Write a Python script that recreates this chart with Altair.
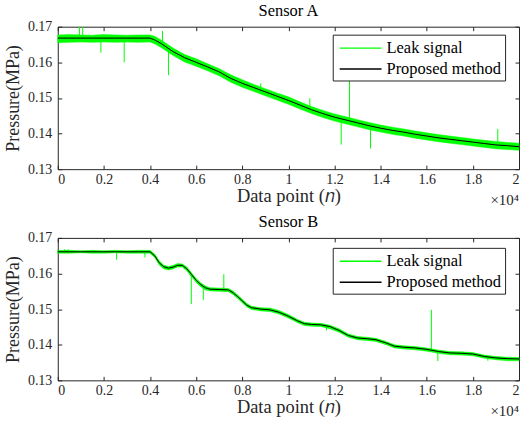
import altair as alt
import pandas as pd

FONT = "Liberation Serif, Times New Roman, Times, serif"
GREEN = "#00ff00"
AX = "#262626"

# ---------- Sensor A ----------
xa = [0, 500, 1000, 1500, 2000, 2500, 3000, 3500, 4000, 4200, 4500, 5000, 5500, 6000, 6500,
      7000, 7500, 8000, 8500, 9000, 9500, 10000, 10500, 11000, 11500, 12000, 12500, 13000,
      13500, 14000, 14500, 15000, 15500, 16000, 16500, 17000, 17500, 18000, 18500, 19000,
      19500, 20000]
line_a = [0.1668, 0.1668, 0.1668, 0.1668, 0.1668, 0.1668, 0.1668, 0.1668, 0.1668, 0.1663,
          0.1652, 0.1630, 0.1613, 0.1600, 0.1587, 0.1573, 0.1555, 0.1541, 0.1529, 0.1517,
          0.1505, 0.1493, 0.1480, 0.1467, 0.1456, 0.1446, 0.1438, 0.1430, 0.1422, 0.1415,
          0.1409, 0.1404, 0.1398, 0.1393, 0.1388, 0.1384, 0.1380, 0.1376, 0.1372, 0.1368,
          0.1366, 0.1363]
upper_a = [0.1677, 0.1678, 0.1677, 0.1676, 0.1678, 0.1677, 0.1676, 0.1677, 0.1677, 0.1673,
           0.1662, 0.1640, 0.1622, 0.1610, 0.1596, 0.1582, 0.1565, 0.1551, 0.1538, 0.1526,
           0.1514, 0.1503, 0.1489, 0.1476, 0.1465, 0.1455, 0.1447, 0.1439, 0.1431, 0.1424,
           0.1418, 0.1413, 0.1407, 0.1402, 0.1397, 0.1393, 0.1389, 0.1385, 0.1381, 0.1378,
           0.1375, 0.1373]
lower_a = [0.1655, 0.1656, 0.1657, 0.1656, 0.1657, 0.1656, 0.1657, 0.1656, 0.1657, 0.1652,
           0.1641, 0.1619, 0.1601, 0.1589, 0.1576, 0.1562, 0.1544, 0.1530, 0.1518, 0.1506,
           0.1494, 0.1482, 0.1469, 0.1456, 0.1445, 0.1435, 0.1427, 0.1419, 0.1411, 0.1404,
           0.1398, 0.1393, 0.1387, 0.1382, 0.1377, 0.1373, 0.1369, 0.1365, 0.1361, 0.1357,
           0.1355, 0.1353]
spike_a_x = [940, 1080, 1870, 2880, 4540, 4800, 8800, 10930, 12290, 12650, 13560, 19080]
spike_a_lo = [0.1668, 0.1668, 0.1627, 0.1600, 0.1652, 0.1564, 0.1522, 0.1475, 0.1369, 0.1437, 0.1358, 0.1368]
spike_a_hi = [0.1700, 0.1700, 0.1668, 0.1668, 0.1688, 0.1640, 0.1541, 0.1499, 0.1443, 0.1580, 0.1421, 0.1413]

# ---------- Sensor B ----------
xb = [0, 500, 1000, 1500, 2000, 2500, 3000, 3500, 4000, 4200, 4400, 4600, 4800, 5000, 5200,
      5400, 5600, 5800, 6000, 6200, 6400, 6600, 7000, 7400, 7600, 7800, 8000, 8200, 8400,
      8800, 9200, 9600, 10000, 10400, 10700, 11000, 11400, 11800, 12200, 12600, 13000,
      13400, 13800, 14200, 14600, 15000, 15500, 16000, 16500, 17000, 17500, 18000, 18500,
      19000, 19500, 20000]
line_b = [0.1661, 0.1661, 0.1661, 0.1661, 0.1661, 0.1661, 0.1661, 0.1661, 0.1661,
          0.1650, 0.1630, 0.1619, 0.1615, 0.1618, 0.1623, 0.1623, 0.1613, 0.1597, 0.1581,
          0.1569, 0.1560, 0.1556, 0.1555, 0.1554, 0.1546, 0.1535, 0.1523, 0.1511, 0.1504,
          0.1500, 0.1498, 0.1491, 0.1480, 0.1467, 0.1459, 0.1457, 0.1456, 0.1451, 0.1440,
          0.1426, 0.1419, 0.1417, 0.1414, 0.1406, 0.1396, 0.1393, 0.1391, 0.1387, 0.1381,
          0.1377, 0.1376, 0.1374, 0.1367, 0.1363, 0.1361, 0.1360]
upper_b = [0.1665, 0.1665, 0.1664, 0.1665, 0.1664, 0.1665, 0.1664, 0.1665, 0.1665,
           0.1655, 0.1636, 0.1623, 0.1620, 0.1623, 0.1628, 0.1627, 0.1618, 0.1602, 0.1586,
           0.1574, 0.1565, 0.1560, 0.1559, 0.1558, 0.1551, 0.1540, 0.1528, 0.1516, 0.1508,
           0.1504, 0.1503, 0.1496, 0.1485, 0.1471, 0.1463, 0.1461, 0.1460, 0.1455, 0.1445,
           0.1430, 0.1423, 0.1421, 0.1418, 0.1410, 0.1400, 0.1397, 0.1395, 0.1391, 0.1385,
           0.1381, 0.1380, 0.1378, 0.1371, 0.1367, 0.1365, 0.1364]
lower_b = [0.1657, 0.1657, 0.1658, 0.1657, 0.1657, 0.1658, 0.1657, 0.1657, 0.1657,
           0.1645, 0.1624, 0.1613, 0.1610, 0.1613, 0.1618, 0.1618, 0.1607, 0.1591, 0.1575,
           0.1563, 0.1554, 0.1551, 0.1550, 0.1549, 0.1541, 0.1530, 0.1518, 0.1506, 0.1499,
           0.1495, 0.1493, 0.1486, 0.1475, 0.1462, 0.1454, 0.1452, 0.1451, 0.1445, 0.1435,
           0.1421, 0.1414, 0.1412, 0.1409, 0.1401, 0.1391, 0.1388, 0.1386, 0.1382, 0.1376,
           0.1372, 0.1371, 0.1369, 0.1362, 0.1358, 0.1355, 0.1355]
spike_b_x = [300, 450, 2550, 3780, 5790, 6310, 7200, 11650, 16200, 16480, 18650]
spike_b_lo = [0.1661, 0.1661, 0.1639, 0.1645, 0.1514, 0.1526, 0.1555, 0.1440, 0.1388, 0.1354, 0.1355]
spike_b_hi = [0.1668, 0.1668, 0.1661, 0.1661, 0.1597, 0.1565, 0.1598, 0.1456, 0.1498, 0.1384, 0.1368]

series_names = ["Leak signal", "Proposed method"]
series_colors = [GREEN, "#000000"]
x_ticks = [0, 2000, 4000, 6000, 8000, 10000, 12000, 14000, 16000, 18000, 20000]
y_ticks = [0.13, 0.14, 0.15, 0.16, 0.17]

W, H = 463, 143


def panel(title, xs, line, up, lo, sx, slo, shi, legend_y):
    band = pd.DataFrame({"x": xs, "up": up, "lo": lo, "series": series_names[0]})
    ln = pd.DataFrame({"x": xs, "y": line, "series": series_names[1]})
    sp = pd.DataFrame({"x": sx, "lo": slo, "hi": shi, "series": series_names[0]})

    xsc = alt.Scale(domain=[0, 20000], nice=False, zero=False)
    ysc = alt.Scale(domain=[0.13, 0.17], nice=False, zero=False)
    ssc = alt.Scale(domain=series_names, range=series_colors)
    leg = alt.Legend(title=None, orient="none", legendX=276, legendY=legend_y,
                     symbolType="M-1,0H3.42", symbolSize=361, symbolStrokeWidth=1.5,
                     symbolOffset=3, labelOffset=27,
                     labelFont=FONT, labelFontSize=16.5, labelColor="#000000",
                     strokeColor=AX, fillColor="white", padding=3, rowPadding=2)

    x_main = alt.Axis(values=x_ticks, labelExpr="format(datum.value/10000, '~g')",
                      title="Data point (𝑛)", ticks=False, grid=False, domain=False,
                      labelPadding=3, titlePadding=0, titleFontSize=18.5)
    y_main = alt.Axis(values=y_ticks, format=".2f", title="Pressure(MPa)", ticks=False,
                      grid=False, domain=False, labelPadding=6, titlePadding=5)
    x_in_bottom = alt.Axis(orient="top", offset=-H, values=x_ticks, labels=False, title=None,
                           domain=False, grid=False, tickSize=4, tickColor=AX)
    x_in_top = alt.Axis(orient="bottom", offset=-H, values=x_ticks, labels=False, title=None,
                        domain=False, grid=False, tickSize=4, tickColor=AX)
    y_in_left = alt.Axis(orient="right", offset=-W, values=y_ticks, labels=False, title=None,
                         domain=False, grid=False, tickSize=4, tickColor=AX)
    y_in_right = alt.Axis(orient="left", offset=-W, values=y_ticks, labels=False, title=None,
                          domain=False, grid=False, tickSize=4, tickColor=AX)

    area = alt.Chart(band).mark_area(fill=GREEN, strokeWidth=0.5).encode(
        x=alt.X("x:Q", scale=xsc, axis=x_main),
        y=alt.Y("up:Q", scale=ysc, axis=y_main),
        y2="lo:Q",
        stroke=alt.Stroke("series:N", scale=ssc, legend=leg),
    )
    spikes = alt.Chart(sp).mark_rule(strokeWidth=1).encode(
        x=alt.X("x:Q", scale=xsc, axis=x_in_bottom),
        y=alt.Y("lo:Q", scale=ysc, axis=y_in_left),
        y2="hi:Q",
        stroke=alt.Stroke("series:N", scale=ssc, legend=leg),
    )
    curve = alt.Chart(ln).mark_line(strokeWidth=1).encode(
        x=alt.X("x:Q", scale=xsc, axis=x_in_top),
        y=alt.Y("y:Q", scale=ysc, axis=y_in_right),
        stroke=alt.Stroke("series:N", scale=ssc, legend=leg),
    )
    mult = alt.Chart(pd.DataFrame({"t": ["×10⁴"]})).mark_text(
        font=FONT, fontSize=15, align="right", baseline="middle", color=AX
    ).encode(text="t:N", x=alt.value(W), y=alt.value(H + 31))

    return alt.layer(area, spikes, curve, mult).resolve_axis(
        x="independent", y="independent"
    ).properties(
        width=W, height=H,
        title=alt.TitleParams(title, font=FONT, fontSize=16.5, fontWeight="normal",
                              color="#000000", offset=0),
    )


top = panel("Sensor A", xa, line_a, upper_a, lower_a, spike_a_x, spike_a_lo, spike_a_hi, 8)
bottom = panel("Sensor B", xb, line_b, upper_b, lower_b, spike_b_x, spike_b_lo, spike_b_hi, 10)

chart = alt.vconcat(top, bottom, spacing=5).resolve_scale(stroke="independent").configure(
    padding={"left": 4, "top": 2, "right": 0, "bottom": 0},
    background="white",
).configure_view(
    stroke=AX, strokeWidth=1
).configure_axis(
    labelFont=FONT, labelFontSize=14, labelColor=AX,
    titleFont=FONT, titleFontSize=18, titleFontWeight="normal", titleColor=AX,
)

chart.save("out.html", embed_options={"renderer": "svg", "actions": False})
